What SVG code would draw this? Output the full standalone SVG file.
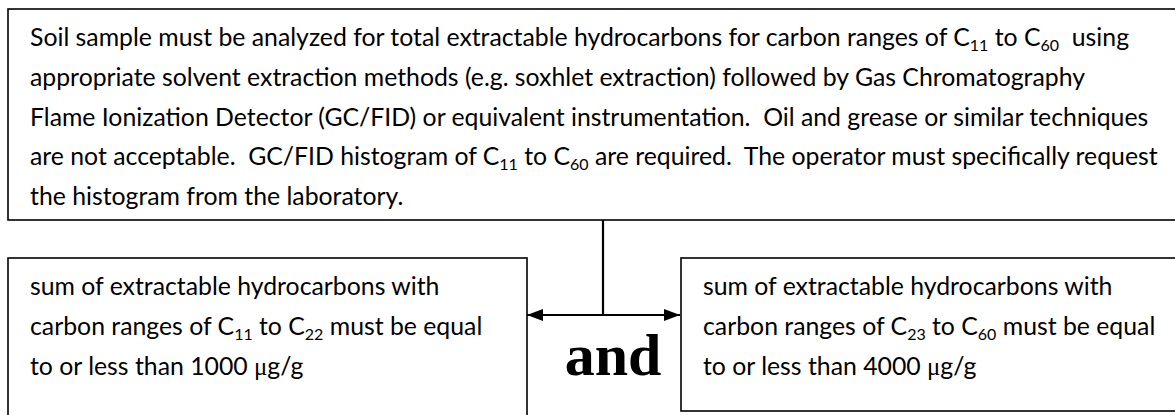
<svg xmlns="http://www.w3.org/2000/svg" width="1175" height="415" viewBox="0 0 1175 415">
<defs>
<style>
.box{fill:#fff;stroke:#000;stroke-width:1.6}
.t{font-family:Lato,"Open Sans","Liberation Sans",sans-serif;font-size:24.8px;fill:#000;white-space:pre}
.sub{font-size:16px}
.mu{font-family:"Liberation Serif",serif}
.ln{stroke:#000;stroke-width:2.2;fill:none}
.and{font-family:"Liberation Serif","DejaVu Serif",serif;font-weight:bold;font-size:60px;fill:#000}
</style>
<marker id="ah" viewBox="0 0 16 12" refX="16" refY="6" markerWidth="16" markerHeight="12" markerUnits="userSpaceOnUse" orient="auto-start-reverse">
<path d="M0,0 L16,6 L0,12 z" fill="#000"/>
</marker>
</defs>
<g id="top">
<rect class="box" x="8" y="9" width="1180" height="211"/>
<text class="t" xml:space="preserve"><tspan x="30" y="46">Soil sample must be analyzed for total extractable hydrocarbons for carbon ranges of C<tspan class="sub" dy="5">11</tspan><tspan dy="-5"> to C</tspan><tspan class="sub" dy="5">60</tspan><tspan dy="-5">  using</tspan></tspan></text>
<text class="t" x="30" y="86">appropriate solvent extraction methods (e.g. soxhlet extraction) followed by Gas Chromatography</text>
<text class="t" x="30" y="126" xml:space="preserve">Flame Ionization Detector (GC/FID) or equivalent instrumentation.  Oil and grease or similar techniques</text>
<text class="t" xml:space="preserve"><tspan x="30" y="165">are not acceptable.  GC/FID histogram of C<tspan class="sub" dy="5">11</tspan><tspan dy="-5"> to C</tspan><tspan class="sub" dy="5">60</tspan><tspan dy="-5"> are required.  The operator must specifically request</tspan></tspan></text>
<text class="t" x="30" y="205">the histogram from the laboratory.</text>
</g>
<g id="left">
<rect class="box" x="8" y="258" width="519" height="170"/>
<text class="t" x="30" y="295">sum of extractable hydrocarbons with</text>
<text class="t"><tspan x="30" y="335">carbon ranges of C</tspan><tspan class="sub" dy="5">11</tspan><tspan dy="-5"> to C</tspan><tspan class="sub" dy="5">22</tspan><tspan dy="-5"> must be equal</tspan></text>
<text class="t" x="30" y="375">to or less than 1000 <tspan class="mu">μ</tspan>g/g</text>
</g>
<g id="right">
<rect class="box" x="681" y="258" width="510" height="153"/>
<text class="t" x="703" y="295">sum of extractable hydrocarbons with</text>
<text class="t"><tspan x="703" y="335">carbon ranges of C</tspan><tspan class="sub" dy="5">23</tspan><tspan dy="-5"> to C</tspan><tspan class="sub" dy="5">60</tspan><tspan dy="-5"> must be equal</tspan></text>
<text class="t" x="703" y="375">to or less than 4000 <tspan class="mu">μ</tspan>g/g</text>
</g>
<g id="connectors">
<line class="ln" x1="603" y1="220" x2="603" y2="315"/>
<line class="ln" x1="527" y1="315" x2="680" y2="315" marker-start="url(#ah)" marker-end="url(#ah)"/>
</g>
<g id="and">
<text class="and" x="613" y="375" text-anchor="middle">and</text>
</g>
</svg>
